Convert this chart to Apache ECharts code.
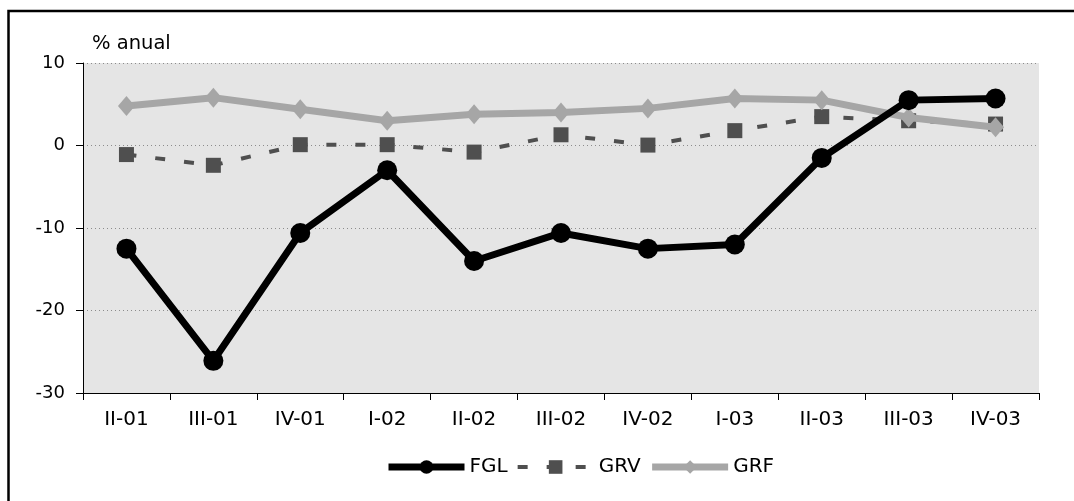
<!DOCTYPE html>
<html>
<head>
<meta charset="utf-8">
<script src="https://cdn.jsdelivr.net/npm/echarts@6/dist/echarts.min.js"></script>
<style>
  html, body { margin: 0; padding: 0; background: #ffffff; }
  #chart { width: 1074px; height: 501px; }
</style>
</head>
<body>
<div id="chart"></div>
<script>
// Quarterly annual growth rates (%)
const categories = ['II-01', 'III-01', 'IV-01', 'I-02', 'II-02', 'III-02', 'IV-02', 'I-03', 'II-03', 'III-03', 'IV-03'];
const fgl = [-12.5, -26.1, -10.6, -3.0, -14.0, -10.6, -12.5, -12.0, -1.5, 5.5, 5.7];
const grv = [-1.1, -2.4, 0.1, 0.1, -0.8, 1.3, 0.05, 1.8, 3.5, 3.0, 2.6];
const grf = [4.8, 5.8, 4.4, 3.0, 3.8, 4.0, 4.5, 5.7, 5.5, 3.4, 2.2];
const yTicks = { min: -30, max: 10, interval: 10 };

const FONT = 'DejaVu Sans';
const C_FGL = '#000000';
const C_GRV = '#4f4f4f';
const C_GRF = '#a6a6a6';

const chart = echarts.init(document.getElementById('chart'), null, { renderer: 'canvas' });

chart.setOption({
  backgroundColor: '#ffffff',
  animation: false,
  textStyle: { fontFamily: FONT },
  graphic: [
    {
      type: 'rect',
      shape: { x: 8.5, y: 11, width: 1200, height: 700 },
      style: { fill: 'none', stroke: '#000000', lineWidth: 2.5 },
      z: 0
    },
    {
      type: 'text',
      left: 92,
      top: 34,
      style: { text: '% anual', fontFamily: FONT, fontSize: 19.5, fill: '#000000' }
    }
  ],
  grid: {
    left: 83, right: 35, top: 63, bottom: 108,
    show: true, backgroundColor: '#e5e5e5', borderWidth: 0
  },
  legend: {
    data: [
      { name: 'FGL', lineStyle: { width: 7 } },
      { name: 'GRV', lineStyle: { width: 4, type: [10, 19] } },
      { name: 'GRF', lineStyle: { width: 7 } }
    ],
    top: 452,
    left: 380,
    itemWidth: 76,
    itemHeight: 17,
    itemGap: 8,
    textStyle: { fontFamily: FONT, fontSize: 20, color: '#000000' }
  },
  xAxis: [
    {
      type: 'category',
      data: categories,
      boundaryGap: true,
      position: 'bottom',
      axisLine: { show: false },
      axisTick: { show: false },
      axisLabel: { color: '#000000', fontSize: 20, fontFamily: FONT, margin: 17 },
      splitLine: { show: false }
    },
    {
      type: 'category',
      data: categories,
      boundaryGap: true,
      position: 'bottom',
      axisLine: { show: true, onZero: true, lineStyle: { color: '#000000', width: 1 } },
      axisTick: { show: true, inside: false, length: 7, lineStyle: { color: '#000000' } },
      axisLabel: { show: false },
      splitLine: { show: false }
    }
  ],
  yAxis: {
    type: 'value',
    min: yTicks.min,
    max: yTicks.max,
    interval: yTicks.interval,
    axisLine: { show: true, lineStyle: { color: '#000000', width: 1 } },
    axisTick: { show: true, length: 7, lineStyle: { color: '#000000' } },
    axisLabel: { color: '#000000', fontSize: 18, fontFamily: FONT, margin: 18 },
    splitLine: { show: true, lineStyle: { color: '#8c8c8c', type: [1, 3], width: 1 } }
  },
  series: [
    {
      name: 'FGL',
      type: 'line',
      xAxisIndex: 0,
      data: fgl,
      z: 5,
      color: C_FGL,
      symbol: 'circle',
      symbolSize: 20,
      lineStyle: { color: C_FGL, width: 7 },
      itemStyle: { color: C_FGL }
    },
    {
      name: 'GRV',
      type: 'line',
      xAxisIndex: 0,
      data: grv,
      z: 3,
      color: C_GRV,
      symbol: 'rect',
      symbolSize: 15,
      lineStyle: { color: C_GRV, width: 4, type: [10, 19] },
      itemStyle: { color: C_GRV }
    },
    {
      name: 'GRF',
      type: 'line',
      xAxisIndex: 0,
      data: grf,
      z: 4,
      color: C_GRF,
      symbol: 'diamond',
      symbolSize: [17, 20],
      lineStyle: { color: C_GRF, width: 7 },
      itemStyle: { color: C_GRF }
    }
  ]
});
</script>
</body>
</html>
